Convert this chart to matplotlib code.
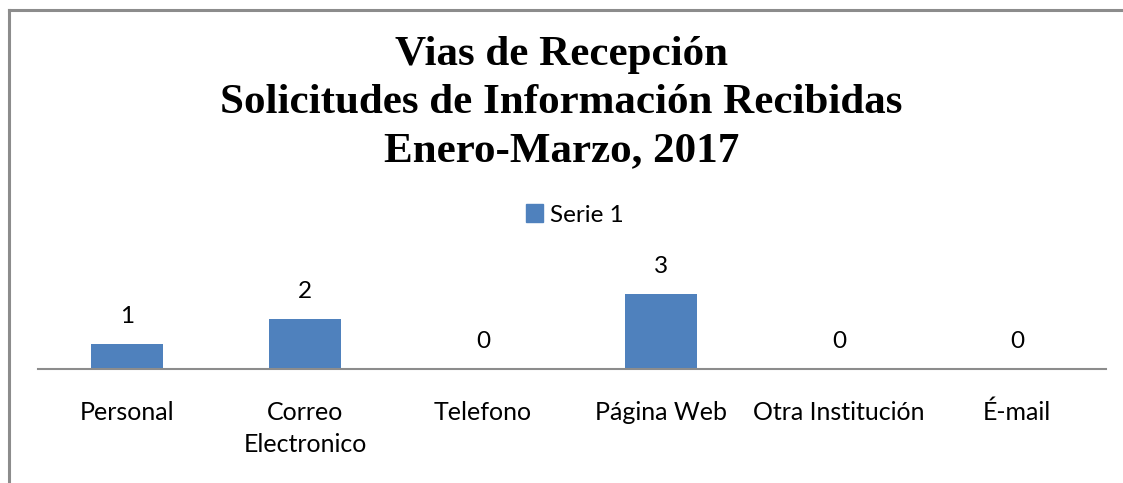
import matplotlib.pyplot as plt
from matplotlib.lines import Line2D
from matplotlib.patches import Patch
import numpy as np

categories = ['Personal', 'Correo\nElectronico', 'Telefono', 'Página Web',
              'Otra Institución', 'É-mail']
values = [1, 2, 0, 3, 0, 0]
series_name = 'Serie 1'
title = 'Vias de Recepción\nSolicitudes de Información Recibidas\nEnero-Marzo, 2017'

W, H = 1123, 483
fig = plt.figure(figsize=(W / 100, H / 100), dpi=100)

# outer chart border (only top and left visible in the crop)
fig.add_artist(Line2D([9 / W, 9 / W], [0, 1 - 10 / H], color='#8c8c8c', lw=2.2))
fig.add_artist(Line2D([9 / W, 1], [1 - 10 / H, 1 - 10 / H], color='#8c8c8c', lw=2.2))

# plot area: x from 38 to 1106 px, baseline at y=369 px, 25 px per unit
ymax = 3.6
ax = fig.add_axes([38 / W, (H - 369) / H, (1106 - 38) / W, ymax * 25 / H])
x = np.arange(len(categories))
bars = ax.bar(x, values, width=0.4, color='#4f81bd')
ax.set_xlim(-0.5, len(categories) - 0.5)
ax.set_ylim(0, ymax)

for xi, v in zip(x, values):
    ax.annotate(str(v), (xi, v), xytext=(0, 19.5), textcoords='offset points',
                ha='center', va='center', fontsize=17.5, family='Lato', color='black')

for s in ['top', 'right', 'left']:
    ax.spines[s].set_visible(False)
ax.spines['bottom'].set_color('#8c8c8c')
ax.spines['bottom'].set_linewidth(1.5)
ax.set_yticks([])
ax.set_xticks(x)
ax.set_xticklabels(categories, fontsize=18, family='Lato', linespacing=1.5)
ax.tick_params(axis='x', length=0, pad=23)

fig.text(0.5, 1 - 103 / H, title, ha='center', va='center', fontsize=31,
         family='Liberation Serif', weight='bold', linespacing=1.34)

fig.legend(handles=[Patch(color='#4f81bd', label=series_name)],
           loc='center', bbox_to_anchor=(575 / W, 1 - 215 / H), frameon=False,
           prop={'family': 'Lato', 'size': 17.5}, handlelength=0.7, handleheight=0.7,
           handletextpad=0.3)

fig.savefig('out.png', dpi=100)
